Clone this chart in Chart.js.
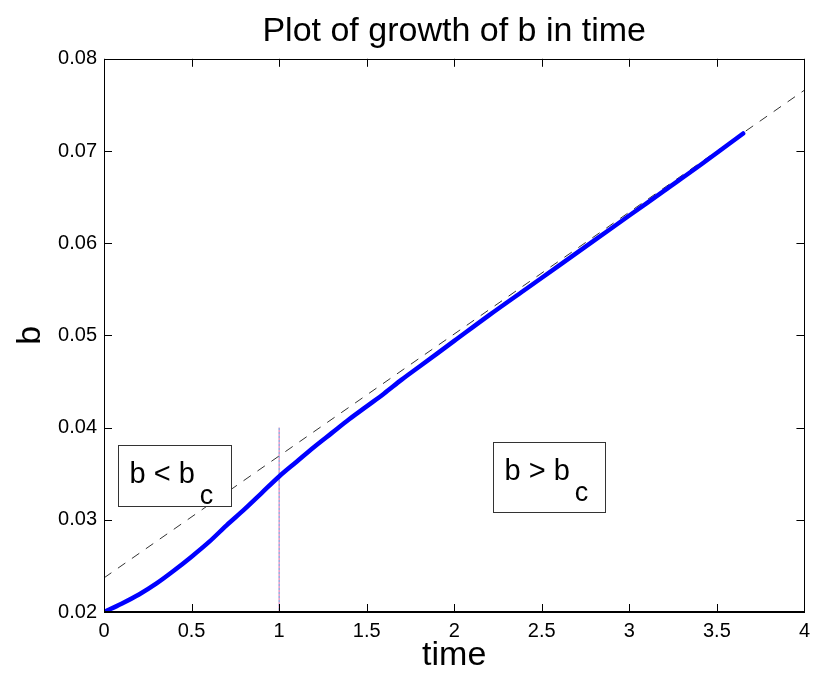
<!DOCTYPE html>
<html>
<head>
<meta charset="utf-8">
<script src="https://cdn.jsdelivr.net/npm/chart.js@4.4.1/dist/chart.umd.min.js"></script>
<style>
  html,body{margin:0;padding:0;background:#fff;}
  #wrap{width:817px;height:681px;}
</style>
</head>
<body>
<div id="wrap"><canvas id="c" width="817" height="681"></canvas></div>
<script>
// ==== data ====
const times   = [0, 0.1, 0.2, 0.3, 0.4, 0.5, 0.6, 0.7, 0.8, 0.9, 1.0, 1.1, 1.2, 1.3, 1.4, 1.5, 1.6, 1.7, 1.8, 1.9, 2.0, 2.2, 2.4, 2.6, 2.8, 3.0, 3.2, 3.4, 3.65];
const bValues = [0.0200, 0.0209, 0.0219, 0.0231, 0.0245, 0.0260, 0.0276, 0.0294, 0.0311, 0.0329, 0.0347, 0.0363, 0.0379, 0.0394, 0.0409, 0.0423, 0.0437, 0.0452, 0.0466, 0.0480, 0.0494, 0.0522, 0.0549, 0.0576, 0.0603, 0.0630, 0.0657, 0.0684, 0.0719];
const asymX = [0, 4];
const asymY = [0.0237, 0.0766];
const markX = [1, 1];
const markY = [0.02, 0.04];
const xTicks = [0, 0.5, 1, 1.5, 2, 2.5, 3, 3.5, 4];
const yTicks = [0.02, 0.03, 0.04, 0.05, 0.06, 0.07, 0.08];
const labels = { title: 'Plot of growth of b in time', x: 'time', y: 'b' };
const boxes = [
  { x0: 0.081, x1: 0.727, y0: 0.0315, y1: 0.0381, main: 'b < b', sub: 'c' },
  { x0: 2.219, x1: 2.860, y0: 0.0309, y1: 0.0384, main: 'b > b', sub: 'c' }
];

const zip = (xs, ys) => xs.map((x, i) => ({ x, y: ys[i] }));
const FONT = '"Liberation Sans", Arial, Helvetica, sans-serif';

// matlab-ish frame with inward ticks on all four sides
const framePlugin = {
  id: 'frame',
  afterDraw(chart) {
    const { ctx, chartArea: a, scales: { x, y } } = chart;
    const len = 8;
    ctx.save();
    ctx.strokeStyle = '#000';
    ctx.lineWidth = 1;
    ctx.beginPath();
    xTicks.forEach(v => {
      const px = Math.round(x.getPixelForValue(v)) + 0.5;
      ctx.moveTo(px, a.bottom); ctx.lineTo(px, a.bottom - len);
      ctx.moveTo(px, a.top); ctx.lineTo(px, a.top + len);
    });
    yTicks.forEach(v => {
      const py = Math.round(y.getPixelForValue(v)) + 0.5;
      ctx.moveTo(a.left, py); ctx.lineTo(a.left + len, py);
      ctx.moveTo(a.right, py); ctx.lineTo(a.right - len, py);
    });
    ctx.stroke();
    ctx.strokeRect(Math.round(a.left) + 0.5, Math.round(a.top) + 0.5, Math.round(a.right - a.left), Math.round(a.bottom - a.top));
    ctx.lineWidth = 2;
    ctx.beginPath();
    ctx.moveTo(a.left, Math.round(a.bottom)); ctx.lineTo(a.right, Math.round(a.bottom));
    ctx.stroke();
    ctx.restore();
  }
};

// text boxes for the two regimes
const boxPlugin = {
  id: 'regimes',
  afterDatasetsDraw(chart) {
    const { ctx, scales: { x, y } } = chart;
    ctx.save();
    boxes.forEach(b => {
      const l = Math.round(x.getPixelForValue(b.x0)) + 0.5;
      const r = Math.round(x.getPixelForValue(b.x1)) + 0.5;
      const t = Math.round(y.getPixelForValue(b.y1)) + 0.5;
      const btm = Math.round(y.getPixelForValue(b.y0)) + 0.5;
      ctx.fillStyle = '#fff';
      ctx.fillRect(l, t, r - l, btm - t);
      ctx.strokeStyle = '#333';
      ctx.lineWidth = 1;
      ctx.strokeRect(l, t, r - l, btm - t);
      ctx.fillStyle = '#000';
      ctx.textBaseline = 'alphabetic';
      ctx.textAlign = 'left';
      ctx.font = '29px ' + FONT;
      const tx = l + 11;
      const base = t + 37;
      ctx.fillText(b.main, tx, base);
      const w = ctx.measureText(b.main).width;
      ctx.font = '27px ' + FONT;
      ctx.fillText(b.sub, tx + w + 5, base + 21);
    });
    ctx.restore();
  }
};

new Chart(document.getElementById('c'), {
  type: 'scatter',
  data: {
    datasets: [
      { data: zip(asymX, asymY), showLine: true, borderColor: '#333', borderWidth: 1, borderDash: [9, 8], pointRadius: 0, order: 3 },
      { data: zip(markX, markY), showLine: true, borderColor: 'rgba(220,90,160,0.9)', borderWidth: 1, borderDash: [2, 2], pointRadius: 0, order: 2 },
      { data: zip(markX, markY), showLine: true, borderColor: 'rgba(80,110,200,0.9)', borderWidth: 1, borderDash: [2, 2], borderDashOffset: 2, pointRadius: 0, order: 2 },
      { data: zip(times, bValues), showLine: true, borderColor: '#0000ff', borderWidth: 4.5, pointRadius: 0, cubicInterpolationMode: 'monotone', order: 1, borderCapStyle: 'round', borderJoinStyle: 'round' }
    ]
  },
  options: {
    responsive: false,
    animation: false,
    devicePixelRatio: 1,
    layout: { padding: { left: 10, right: 10, top: 0, bottom: 0 } },
    plugins: {
      legend: { display: false },
      tooltip: { enabled: false },
      title: {
        display: true, fullSize: false, text: labels.title, color: '#000',
        font: { family: FONT, size: 34, weight: 'normal' },
        padding: { top: 11, bottom: 7 }
      }
    },
    scales: {
      x: {
        type: 'linear', min: 0, max: 4,
        afterBuildTicks: s => { s.ticks = xTicks.map(v => ({ value: v })); },
        afterFit: s => { s.height = 69; },
        grid: { display: false, drawTicks: false },
        border: { display: false },
        ticks: { color: '#000', font: { family: FONT, size: 20 }, padding: 7, maxRotation: 0, callback: v => String(v) },
        title: { display: true, text: labels.x, color: '#000', font: { family: FONT, size: 34 }, padding: { top: 0, bottom: 5 } }
      },
      y: {
        type: 'linear', min: 0.02, max: 0.08,
        afterBuildTicks: s => { s.ticks = yTicks.map(v => ({ value: v })); },
        afterFit: s => { s.width = 94; },
        grid: { display: false, drawTicks: false },
        border: { display: false },
        ticks: { color: '#000', font: { family: FONT, size: 20 }, padding: 7, callback: v => v.toFixed(2) },
        title: { display: true, text: labels.y, color: '#000', font: { family: FONT, size: 34 }, padding: { top: 0, bottom: 0 } }
      }
    }
  },
  plugins: [framePlugin, boxPlugin]
});
</script>
</body>
</html>
